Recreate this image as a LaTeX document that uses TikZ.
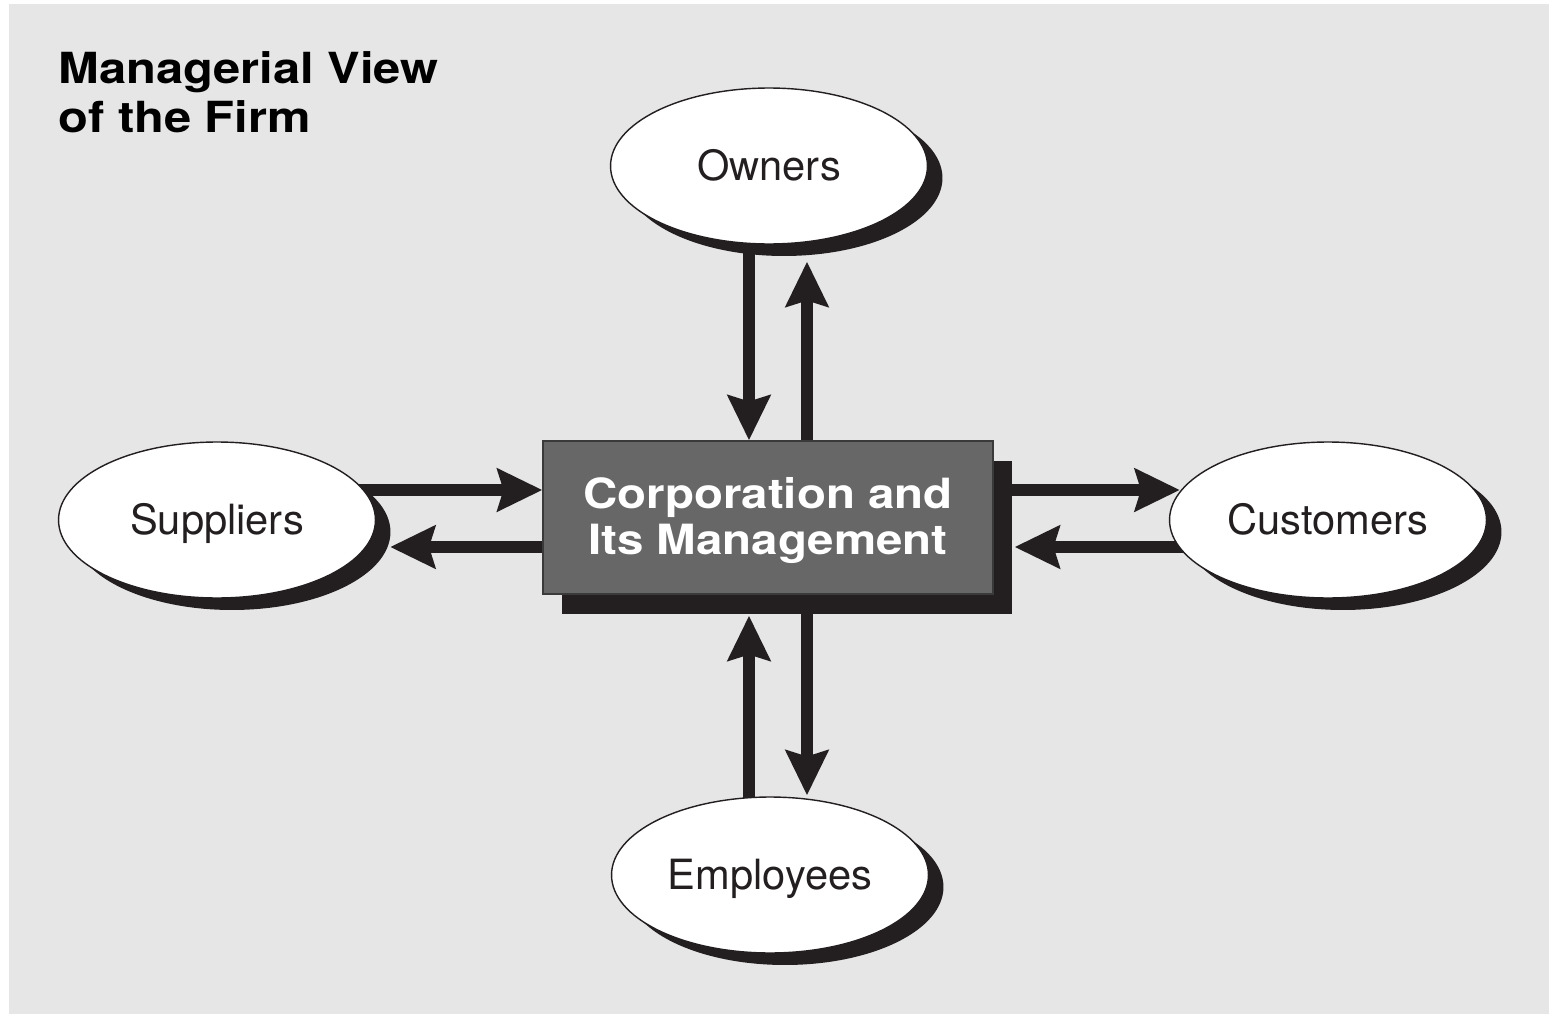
\documentclass[tikz,border=0pt]{standalone}
\usepackage{fontspec}
\setmainfont{TeX Gyre Heros}
\newfontfamily\widefont[FakeStretch=1.14]{TeX Gyre Heros}
\usetikzlibrary{arrows.meta,shapes.geometric,shadows,calc}
\pgfdeclarelayer{bg}
\pgfsetlayers{bg,main}
\definecolor{paper}{HTML}{E6E6E6}
\definecolor{ink}{HTML}{231F20}
\definecolor{boxfill}{HTML}{676767}
\definecolor{boxline}{HTML}{3A3A3A}
\tikzset{
  party/.style={ellipse, draw=ink, line width=0.8pt, fill=white, inner sep=0pt,
    minimum width=6.34cm, minimum height=3.12cm,
    font=\fontsize{23.7}{26}\selectfont, text=ink, text height=17pt, text depth=0pt,
    drop shadow={shadow xshift=0.3cm, shadow yshift=-0.24cm, fill=ink, opacity=1, draw=none}},
  corp/.style={rectangle, draw=boxline, line width=0.8pt, fill=boxfill, inner sep=0pt,
    minimum width=9cm, minimum height=3.06cm, text=white, align=center,
    text height=44pt, text depth=1.4pt,
    font=\widefont\bfseries\fontsize{23.7}{26.6}\selectfont,
    drop shadow={shadow xshift=0.38cm, shadow yshift=-0.4cm, fill=ink, opacity=1, draw=none}},
  flow/.style={line width=6.3pt, draw=ink, line cap=butt,
    -{Stealth[length=25.5pt, width=24pt, inset=3.4pt]}},
  heading/.style={anchor=base west, inner sep=0pt, text=black, align=left,
    font=\widefont\bfseries\fontsize{24.4}{27.8}\selectfont}
}
\begin{document}
\begin{tikzpicture}[x=0.02cm, y=-0.02cm]
\useasboundingbox (0,0) rectangle (1549,1014);
\begin{pgfonlayer}{bg}
  \fill[paper] (9,4) rectangle (1549,1014);
\end{pgfonlayer}

\node[heading] (title) at (58,132) {Managerial View\\of the Firm};

\node[corp] (box) at (768,517.5) {Corporation and\\Its Management};
\node[party] (own) at (769,166) {Owners};
\node[party] (sup) at (217,520) {Suppliers};
\node[party] (cus) at (1328,520) {Customers};
\node[party] (emp) at (770,875) {Employees};

\coordinate (xL) at (749,0);
\coordinate (xR) at (807,0);
\coordinate (yT) at (0,490);
\coordinate (yB) at (0,547);

\begin{pgfonlayer}{bg}
  % owners
  \draw[flow] (own.center -| xL) -- (box.north -| xL);
  \draw[flow] (box.center -| xR) -- ($(own.south -| xR)+(0,17)$);
  % employees
  \draw[flow] (emp.center -| xL) -- ($(box.south -| xL)+(0,21)$);
  \draw[flow] (box.center -| xR) -- ($(emp.north -| xR)+(0,-1)$);
  % suppliers
  \draw[flow] (sup.center |- yT) -- (box.west |- yT);
  \draw[flow] (box.center |- yB) -- ($(sup.east |- yB)+(14,0)$);
  % customers
  \draw[flow] (box.center |- yT) -- ($(cus.west |- yT)+(11,0)$);
  \draw[flow] (cus.center |- yB) -- ($(box.east |- yB)+(21,0)$);
\end{pgfonlayer}
\end{tikzpicture}
\end{document}
